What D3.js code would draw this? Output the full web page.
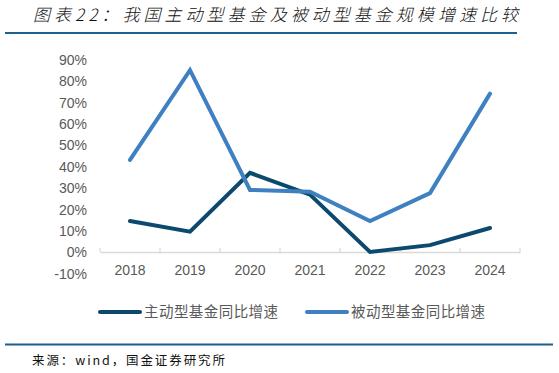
<!DOCTYPE html>
<html><head><meta charset="utf-8">
<script src="https://cdn.jsdelivr.net/npm/d3@7"></script>
<style>body{margin:0;background:#fff}svg{display:block}</style>
</head><body><svg id="c" width="559" height="373"></svg>
<script>
const years = ["2018","2019","2020","2021","2022","2023","2024"];
const activeGrowth = [14.5, 9.5, 37, 26.8, 0, 3.2, 11.2];
const passiveGrowth = [43, 85, 29, 28.2, 14.5, 27.5, 74];
const yTicks = [-10,0,10,20,30,40,50,60,70,80,90];
const seriesNames = ["主动型基金同比增速","被动型基金同比增速"];
const colors = ["#0b4a6e","#3f80c1"];

const svg = d3.select("#c");
const x = d3.scaleBand().domain(years).range([100,520]);
const y = d3.scaleLinear().domain([-10,90]).range([273.4,59.4]);

// title
svg.append("text").attr("x",33).attr("y",21).attr("font-family","Noto Sans CJK SC")
  .attr("font-size",17).attr("font-style","italic").attr("font-weight",300).attr("fill","#111")
  .attr("textLength",485).attr("lengthAdjust","spacing")
  .text("图表22：我国主动型基金及被动型基金规模增速比较");
svg.append("line").attr("x1",5).attr("x2",517).attr("y1",33).attr("y2",33)
  .attr("stroke","#1f5f8b").attr("stroke-width",2);

// y labels
svg.append("g").selectAll("text").data(yTicks).join("text")
  .attr("x",87).attr("y",d=>y(d)).attr("dy","0.38em").attr("text-anchor","end")
  .attr("font-family","Liberation Sans, Arial").attr("font-size",14).attr("fill","#595959")
  .text(d=>d+"%");

// x axis
const xAxis = d3.axisBottom(x).tickSize(0).tickPadding(13);
const gx = svg.append("g").attr("transform",`translate(0,${y(0)})`).call(xAxis);
gx.select(".domain").attr("stroke","#d9d9d9").attr("stroke-width",1.5);
gx.selectAll("text").attr("font-family","Liberation Sans, Arial").attr("font-size",14).attr("fill","#595959");
svg.append("g").selectAll("line").data(years.concat(["end"])).join("line")
  .attr("x1",(d,i)=>x.range()[0]+i*x.bandwidth()).attr("x2",(d,i)=>x.range()[0]+i*x.bandwidth())
  .attr("y1",y(0)-4).attr("y2",y(0)).attr("stroke","#d9d9d9").attr("stroke-width",1.2);

// lines
const line = d3.line().x((d,i)=>x(years[i])+x.bandwidth()/2).y(d=>y(d));
[activeGrowth, passiveGrowth].forEach((s,k)=>{
  svg.append("path").attr("d",line(s)).attr("fill","none").attr("stroke",colors[k])
    .attr("stroke-width",4).attr("stroke-linejoin","miter").attr("stroke-linecap","round");
});

// legend
const lx = [100,307];
seriesNames.forEach((n,k)=>{
  svg.append("line").attr("x1",lx[k]).attr("x2",lx[k]+40).attr("y1",312).attr("y2",312)
    .attr("stroke",colors[k]).attr("stroke-width",4).attr("stroke-linecap","round");
  svg.append("text").attr("x",lx[k]+44).attr("y",312).attr("dy","0.35em")
    .attr("font-family","Noto Sans CJK SC").attr("font-size",14.5).attr("fill","#595959")
    .attr("textLength",134).attr("lengthAdjust","spacing").text(n);
});

// source
svg.append("line").attr("x1",5).attr("x2",553).attr("y1",344.5).attr("y2",344.5)
  .attr("stroke","#1f5f8b").attr("stroke-width",2);
svg.append("text").attr("x",32).attr("y",361).attr("dy","0.35em")
  .attr("font-family","Noto Sans CJK SC").attr("font-size",12.5).attr("fill","#111")
  .attr("textLength",193).attr("lengthAdjust","spacing").text("来源：wind，国金证券研究所");
</script></body></html>
